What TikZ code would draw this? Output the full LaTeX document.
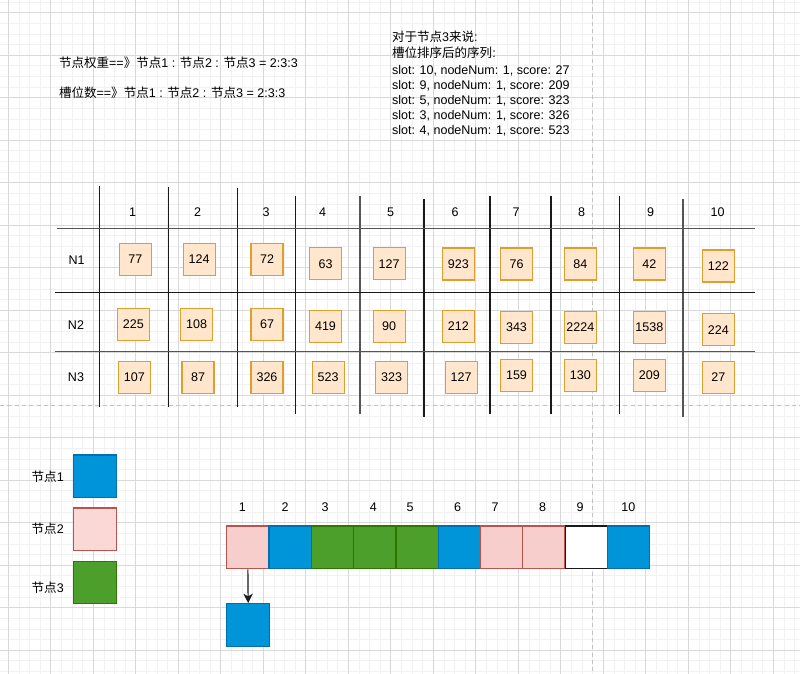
\documentclass[tikz,border=0pt]{standalone}
\usepackage{fontspec}
\setmainfont{Liberation Sans}
\newfontfamily\cjk{Noto Sans CJK SC}
\usetikzlibrary{arrows.meta}
\newcommand\zh[1]{{\cjk #1}}
\definecolor{peachfill}{HTML}{FFE6CC}
\definecolor{peachline}{HTML}{DE9F2E}
\definecolor{bluefill}{HTML}{0095D9}
\definecolor{blueline}{HTML}{006EAF}
\definecolor{pinkfill}{HTML}{F8CECC}
\definecolor{pinkline}{HTML}{B85450}
\definecolor{greenfill}{HTML}{4D9F2B}
\definecolor{greenline}{HTML}{2D7600}
\definecolor{gridminor}{HTML}{F1F1F1}
\definecolor{gridmajor}{HTML}{D9D9D9}
\definecolor{pagebreak}{HTML}{C2C2C2}
\definecolor{tabledark}{HTML}{1A1A1A}
\definecolor{tablegray}{HTML}{555555}
\begin{document}
\begin{tikzpicture}[x=0.75pt,y=-0.75pt,
  font=\fontsize{9.4pt}{11.6pt}\selectfont,
  txt/.style={inner sep=0pt, outer sep=0pt},
  valbox/.style={draw=peachline, fill=peachfill, line width=0.9pt,
    minimum width=24pt, minimum height=24pt, inner sep=0pt},
  legbox/.style={line width=0.9pt, minimum width=32.25pt, minimum height=32pt, inner sep=0pt},
  slotcell/.style={line width=0.9pt, minimum width=31.7pt, minimum height=32pt, inner sep=0pt},
  bluecell/.style={draw=blueline, fill=bluefill},
  pinkcell/.style={draw=pinkline, fill=pinkfill},
  greencell/.style={draw=greenline, fill=greenfill},
  whitecell/.style={draw=tabledark, fill=white},
  tline/.style={draw=tabledark, line width=0.8pt},
  tlinegray/.style={draw=tablegray, line width=1.1pt},
  arr/.style={draw=tabledark, line width=0.9pt, -{Stealth[length=7pt,width=7pt,inset=2pt]}}
]
\useasboundingbox (0,0) rectangle (800,674);
\fill[white] (0,0) rectangle (800,674);
% background grid
\foreach \i in {0,...,76} {\draw[gridminor, line width=0.6pt] ({-2.325+10.625*\i},0) -- ({-2.325+10.625*\i},674);}
\foreach \i in {0,...,63} {\draw[gridminor, line width=0.6pt] (0,{2.075+10.625*\i}) -- (800,{2.075+10.625*\i});}
\foreach \i in {0,...,18} {\draw[gridmajor, line width=0.7pt] ({8.3+42.5*\i},0) -- ({8.3+42.5*\i},674);}
\foreach \i in {0,...,15} {\draw[gridmajor, line width=0.7pt] (0,{12.7+42.5*\i}) -- (800,{12.7+42.5*\i});}
% page break lines
\draw[pagebreak, line width=0.8pt, dash pattern=on 3pt off 2.5pt] (592.3,0) -- (592.3,674);
\draw[pagebreak, line width=0.8pt, dash pattern=on 3pt off 2.5pt] (0,405.7) -- (800,405.7);

% top left texts
\node[txt, anchor=base west] (w1) at (59,67.5) {\zh{节点权重}==\zh{》节点}1 : \zh{节点}2 : \zh{节点}3 = 2:3:3};
\node[txt, anchor=base west] (w2) at (59,97.5) {\zh{槽位数}==\zh{》节点}1 : \zh{节点}2 : \zh{节点}3 = 2:3:3};

% top right texts
\node[txt, anchor=base west] (r1) at (392,41.8) {\zh{对于节点}3\zh{来说}:};
\node[txt, anchor=base west] (r2) at (392,57.6) {\zh{槽位排序后的序列}:};
\node[txt, anchor=base west] (r3) at (392,74.3) {slot: 10, nodeNum: 1, score: 27};
\node[txt, anchor=base west] (r4) at (392,89.5) {slot: 9, nodeNum: 1, score: 209};
\node[txt, anchor=base west] (r5) at (392,104.5) {slot: 5, nodeNum: 1, score: 323};
\node[txt, anchor=base west] (r6) at (392,119.5) {slot: 3, nodeNum: 1, score: 326};
\node[txt, anchor=base west] (r7) at (392,134.5) {slot: 4, nodeNum: 1, score: 523};

% table lines
\draw[tline] (99.3,186) -- (99.3,407.3);
\draw[tline] (168.3,187) -- (168.3,407.3);
\draw[tline] (237.3,188) -- (237.3,407);
\draw[tline] (295.7,196) -- (295.7,414.3);
\draw[tlinegray] (359.8,196) -- (359.8,414);
\draw[tline] (424,199) -- (424,417.3);
\draw[tline] (490,196) -- (490,414.3);
\draw[tline] (551,196) -- (551,414.3);
\draw[tline] (619.3,196) -- (619.3,414.3);
\draw[tlinegray] (683,199) -- (683,417.3);
\draw[tlinegray] (56.7,228.3) -- (755,228.3);
\draw[tline] (55,292.3) -- (755,292.3);
\draw[tlinegray] (55,351.7) -- (755,351.7);

% column headers
\foreach \x/\t [count=\k] in {132.7/1,197.7/2,266/3,322.7/4,390.7/5,455/6,516/7,581.7/8,650.7/9,717.7/10}
  {\node[txt] (h\k) at (\x,212) {\t};}
% row labels
\node[txt] (n1) at (76.7,260) {N1};
\node[txt] (n2) at (76,325) {N2};
\node[txt] (n3) at (76,377) {N3};

% value boxes
\foreach \x/\y/\v [count=\k] in {135.3/259.3/77, 199.2/259.3/124, 267/259.3/72, 325.5/263.7/63, 389.2/263.7/127, 458.3/264/923, 516.5/264/76, 580.3/264/84, 649.3/264/42, 718.3/266/122}
  {\node[valbox] (va\k) at (\x,\y) {\v};}
\foreach \x/\y/\v [count=\k] in {133.3/324.3/225, 196.7/324.3/108, 267/324.3/67, 325.5/326.3/419, 389.2/326.3/90, 458.3/326.3/212, 516.5/327.2/343, 580.3/327.3/2224, 649.3/327.3/1538, 718.3/329.7/224}
  {\node[valbox] (vb\k) at (\x,\y) {\v};}
\foreach \x/\y/\v [count=\k] in {134.3/377.5/107, 198/377.5/87, 267/377.5/326, 328.2/377.5/523, 391.7/377.5/323, 461.2/377.5/127, 516.5/375.3/159, 580.3/375.3/130, 649.3/375.3/209, 718.3/377.5/27}
  {\node[valbox] (vc\k) at (\x,\y) {\v};}

% legend
\node[txt, anchor=base west] (l1) at (31.7,481.2) {\zh{节点}1};
\node[txt, anchor=base west] (l2) at (31.7,533.8) {\zh{节点}2};
\node[txt, anchor=base west] (l3) at (31.7,592.2) {\zh{节点}3};
\node[legbox, bluecell] (k1) at (95,476.3) {};
\node[legbox, pinkcell, fill=pinkfill!80!white] (k2) at (95,529.3) {};
\node[legbox, greencell] (k3) at (95,582.5) {};

% slot numbers
\foreach \x/\t [count=\k] in {242.3/1,285/2,325/3,373.3/4,410/5,457.7/6,495/7,542.7/8,580/9,628.3/10}
  {\node[txt] (s\k) at (\x,507.3) {\t};}

% slot cells
\node[slotcell, pinkcell]  (c1)  at (247.85,547.35) {};
\node[slotcell, bluecell]  (c2)  at (290.15,547.35) {};
\node[slotcell, greencell] (c3)  at (332.45,547.35) {};
\node[slotcell, greencell] (c4)  at (374.75,547.35) {};
\node[slotcell, greencell] (c5)  at (417.05,547.35) {};
\node[slotcell, bluecell]  (c6)  at (459.35,547.35) {};
\node[slotcell, pinkcell]  (c7)  at (501.65,547.35) {};
\node[slotcell, pinkcell]  (c8)  at (543.95,547.35) {};
\node[slotcell, whitecell] (c9)  at (586.25,547.35) {};
\node[slotcell, bluecell]  (c10) at (628.55,547.35) {};

% chosen node
\node[legbox, bluecell] (q) at (248.2,625) {};
\draw[arr] (c1.south) -- (q.north);
\end{tikzpicture}
\end{document}
